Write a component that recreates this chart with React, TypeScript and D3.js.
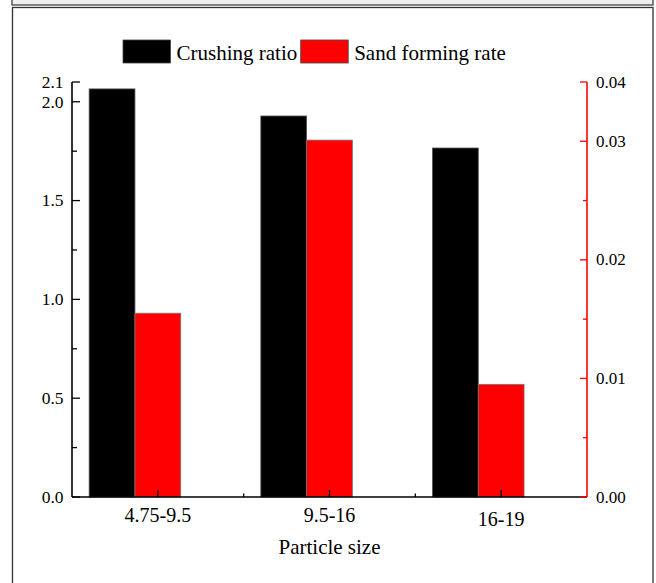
import React, { useEffect, useRef } from "react";
import * as d3 from "d3";

const categories = ["4.75-9.5", "9.5-16", "16-19"];
const crushingRatio = [2.065, 1.928, 1.766];
const sandFormingRate = [0.0155, 0.0301, 0.0095];
const leftTicks = [0, 0.5, 1.0, 1.5, 2.0, 2.1];
const leftMinor = [0.25, 0.75, 1.25, 1.75];
const rightTicks = [0, 0.01, 0.02, 0.03, 0.035];
const rightMinor = [0.005, 0.015, 0.025];
const seriesNames = ["Crushing ratio", "Sand forming rate"];
const seriesColors = ["#000000", "#ff0000"];
const xTitle = "Particle size";

const W = 656;
const H = 583;
const FONT = "'Liberation Serif', 'Times New Roman', serif";

export default function App() {
  const ref = useRef<SVGSVGElement | null>(null);

  useEffect(() => {
    const svg = d3.select(ref.current);
    svg.selectAll("*").remove();

    const left = 72, right = 587, top = 82, bottom = 497;

    // frames
    svg.append("rect").attr("x", 12).attr("y", -10).attr("width", 641).attr("height", 15)
      .attr("fill", "#efefef").attr("stroke", "#333").attr("stroke-width", 1.2);
    svg.append("rect").attr("x", 12.5).attr("y", 7.5).attr("width", 640.5).attr("height", 600)
      .attr("fill", "#ffffff").attr("stroke", "#333").attr("stroke-width", 1.3);

    const x = d3.scaleBand<string>().domain(categories).range([left, right]).padding(0);
    const yL = d3.scaleLinear().domain([0, 2.1]).range([bottom, top]);
    const yR = d3.scaleLinear().domain([0, 0.035]).range([bottom, top]);
    const bw = x.bandwidth();
    const barW = bw * 0.2667;

    const g = svg.append("g");
    // bars
    categories.forEach((c, i) => {
      const cx = (x(c) as number) + bw / 2;
      g.append("rect")
        .attr("x", cx - 1.5 * barW).attr("y", yL(crushingRatio[i]))
        .attr("width", barW).attr("height", bottom - yL(crushingRatio[i]))
        .attr("fill", seriesColors[0]).attr("stroke", "#555").attr("stroke-width", 0.8);
      g.append("rect")
        .attr("x", cx - 0.5 * barW).attr("y", yR(sandFormingRate[i]))
        .attr("width", barW).attr("height", bottom - yR(sandFormingRate[i]))
        .attr("fill", seriesColors[1]).attr("stroke", "#777").attr("stroke-width", 0.8);
    });

    // bottom axis
    const ax = svg.append("g");
    ax.append("line").attr("x1", left).attr("x2", right).attr("y1", bottom).attr("y2", bottom)
      .attr("stroke", "#000").attr("stroke-width", 1.6);
    categories.forEach((c, i) => {
      const cx = (x(c) as number) + bw / 2;
      ax.append("line").attr("x1", cx).attr("x2", cx).attr("y1", bottom).attr("y2", bottom - 7)
        .attr("stroke", "#000").attr("stroke-width", 1.3);
      ax.append("text").attr("x", cx).attr("y", 522 + (i === 2 ? 4 : 0))
        .attr("text-anchor", "middle").attr("font-family", FONT).attr("font-size", 20)
        .attr("fill", "#000").text(c);
      if (i > 0) {
        const bx = x(c) as number;
        ax.append("line").attr("x1", bx).attr("x2", bx).attr("y1", bottom).attr("y2", bottom - 3.5)
          .attr("stroke", "#000").attr("stroke-width", 1.3);
      }
    });
    ax.append("text").attr("x", (left + right) / 2).attr("y", 554)
      .attr("text-anchor", "middle").attr("font-family", FONT).attr("font-size", 21)
      .attr("fill", "#000").text(xTitle);

    // left axis
    const la = svg.append("g");
    la.append("line").attr("x1", left).attr("x2", left).attr("y1", top).attr("y2", bottom)
      .attr("stroke", "#000").attr("stroke-width", 1.6);
    leftTicks.forEach((t) => {
      la.append("line").attr("x1", left).attr("x2", left + 8).attr("y1", yL(t)).attr("y2", yL(t))
        .attr("stroke", "#000").attr("stroke-width", 1.3);
      la.append("text").attr("x", 63.5).attr("y", yL(t)).attr("dy", "0.33em")
        .attr("text-anchor", "end").attr("font-family", FONT).attr("font-size", 17.5)
        .attr("fill", "#000").text(d3.format(".1f")(t));
    });
    leftMinor.forEach((t) => {
      la.append("line").attr("x1", left).attr("x2", left + 5).attr("y1", yL(t)).attr("y2", yL(t))
        .attr("stroke", "#000").attr("stroke-width", 1.3);
    });

    // right axis
    const ra = svg.append("g");
    ra.append("line").attr("x1", right).attr("x2", right).attr("y1", top).attr("y2", bottom)
      .attr("stroke", "#ff0000").attr("stroke-width", 1.6);
    rightTicks.forEach((t) => {
      ra.append("line").attr("x1", right).attr("x2", right - 7).attr("y1", yR(t)).attr("y2", yR(t))
        .attr("stroke", "#ff0000").attr("stroke-width", 1.3);
      ra.append("text").attr("x", 596).attr("y", yR(t)).attr("dy", "0.33em")
        .attr("text-anchor", "start").attr("font-family", FONT).attr("font-size", 17)
        .attr("fill", "#000").text(d3.format(".2f")(t));
    });
    rightMinor.forEach((t) => {
      ra.append("line").attr("x1", right).attr("x2", right - 4).attr("y1", yR(t)).attr("y2", yR(t))
        .attr("stroke", "#ff0000").attr("stroke-width", 1.3);
    });

    // legend
    const lg = svg.append("g");
    const legendX = [123, 300.7];
    seriesNames.forEach((n, i) => {
      lg.append("text").attr("x", legendX[i] + 53.5).attr("y", 59.5)
        .attr("font-family", FONT).attr("font-size", 21).attr("fill", "#000").text(n);
    });
    seriesNames.forEach((n, i) => {
      lg.append("rect").attr("x", legendX[i]).attr("y", 40).attr("width", 47.5).attr("height", 23)
        .attr("fill", seriesColors[i]).attr("stroke", "#444").attr("stroke-width", 0.8);
    });
  }, []);

  return (
    <svg
      ref={ref}
      width={W}
      height={H}
      style={{ position: "absolute", left: 0, top: 0, display: "block", background: "#fff" }}
    />
  );
}
